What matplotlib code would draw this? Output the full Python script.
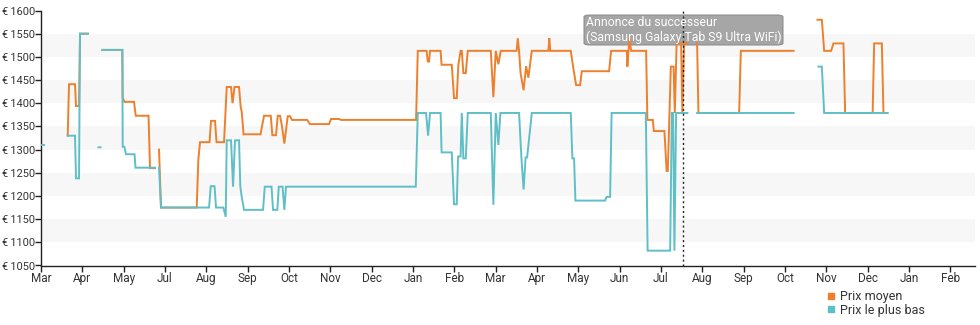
import numpy as np
import matplotlib
matplotlib.use("Agg")
import matplotlib.pyplot as plt
from matplotlib.lines import Line2D
from matplotlib.patches import FancyBboxPatch

plt.rcParams['font.family'] = ['Roboto', 'DejaVu Sans']

nan = np.nan

# time axis: months elapsed since the first tick
month_labels = ["Mar", "Apr", "May", "Jul", "Aug", "Sep", "Oct", "Nov", "Dec", "Jan",
                "Feb", "Mar", "Apr", "May", "Jun", "Jul", "Aug", "Sep", "Oct", "Nov",
                "Dec", "Jan", "Feb"]

# average price (Prix moyen)
t_avg = [0.646, 0.678, 0.823, 0.847, 0.920, 0.944, 1.137, nan,
         1.484, 1.968, 1.977, 2.021, 2.251, 2.292, 2.602, 2.638, 2.759, nan,
         2.856, 2.904, 3.768, 3.807, 3.848, 4.078, 4.114, 4.211, 4.247, 4.429,
         4.494, 4.598, 4.635, 4.683, 4.792, 4.833, 4.857, 4.901, 5.312, 5.397,
         5.559, 5.598, 5.687, 5.728, 5.784, 5.832, 5.888, 5.970, 6.026, 6.074,
         6.438, 6.510, 6.970, 7.018, 7.212, 7.260, 9.076, 9.117, 9.330, 9.359,
         9.390, 9.414, 9.669, 9.693, 9.939, 9.995, 10.060, 10.099, 10.153, 10.182,
         10.220, 10.278, 10.327, 10.883, 10.946, 11.004, 11.067, 11.125, 11.508,
         11.537, 11.568, 11.604, 11.677, 11.738, 11.793, 11.876, 12.277, 12.299,
         12.323, 12.819, 12.875, 12.948, 13.044, 13.086, 13.746, 13.795, 14.175,
         14.189, 14.238, 14.279, 14.642, 14.673, 14.804, 14.828, 15.085, 15.138,
         15.167, 15.240, 15.307, 15.336, 15.380, 15.489, 15.518, 15.562, 15.641, nan,
         15.876, 15.908, 16.893, 16.934, 18.211, nan,
         18.788, 18.894, 18.950, 19.119, 19.175, 19.417, 19.458, 20.123, 20.160,
         20.346, 20.385, 20.482]
p_avg = [1330, 1441, 1441, 1394, 1394, 1550, 1550, nan,
         1515, 1515, 1411, 1403, 1403, 1373, 1373, 1260, 1260, nan,
         1300, 1175, 1175, 1278, 1316, 1316, 1362, 1362, 1316, 1316,
         1435, 1435, 1400, 1435, 1435, 1391, 1382, 1333, 1333, 1373,
         1373, 1331, 1331, 1373, 1373, 1350, 1313, 1372, 1372, 1364,
         1364, 1355, 1355, 1366, 1366, 1364, 1364, 1513, 1513, 1490,
         1490, 1513, 1513, 1483, 1483, 1411, 1411, 1483, 1513, 1513,
         1465, 1465, 1513, 1513, 1413, 1513, 1484, 1513, 1513,
         1540, 1513, 1465, 1428, 1480, 1455, 1513, 1513, 1540,
         1513, 1513, 1479, 1439, 1439, 1469, 1469, 1513, 1513,
         1479, 1540, 1513, 1513, 1364, 1364, 1340, 1340, 1254,
         1254, 1479, 1479, 1379, 1529, 1529, 1379, 1529, 1529, nan,
         1529, 1379, 1379, 1513, 1513, nan,
         1580, 1580, 1513, 1513, 1529, 1529, 1379, 1379, 1529,
         1529, 1379, 1379]

# lowest price (Prix le plus bas)
t_low = [0.0, 0.073, nan,
         0.646, 0.823, 0.847, 0.920, 0.944, 1.137, nan,
         1.392, 1.440, nan,
         1.484, 1.968, 1.977, 2.016, 2.057, 2.263, 2.287, 2.759, nan,
         2.856, 2.904, 4.066, 4.107, 4.199, 4.235, 4.412, 4.470, 4.494, 4.598,
         4.647, 4.695, 4.792, 4.823, 4.857, 4.913, 5.373, 5.414, 5.578, 5.615,
         5.719, 5.753, 5.845, 5.888, 5.929, 9.068, 9.117, 9.317, 9.366, 9.414,
         9.669, 9.693, 9.939, 9.995, 10.060, 10.092, 10.152, 10.182, 10.220,
         10.278, 10.327, 10.883, 10.946, 11.004, 11.067, 11.116, 11.568, 11.624,
         11.677, 11.726, 11.762, 11.876, 12.819, 12.858, 12.899, 12.931, 13.650,
         13.686, 13.771, 13.807, 14.635, 14.678, 15.223, 15.264, 15.295, 15.327,
         15.368, 15.641, nan,
         15.876, 18.211, nan,
         18.811, 18.894, 18.950, 20.482]
p_low = [1310, 1310, nan,
         1330, 1330, 1238, 1238, 1550, 1550, nan,
         1305, 1305, nan,
         1515, 1515, 1306, 1306, 1290, 1290, 1261, 1261, nan,
         1261, 1175, 1175, 1221, 1221, 1175, 1175, 1155, 1320, 1320,
         1220, 1320, 1320, 1220, 1198, 1170, 1170, 1220, 1220, 1170,
         1170, 1220, 1220, 1170, 1220, 1220, 1379, 1379, 1330, 1379,
         1379, 1294, 1294, 1182, 1182, 1285, 1285, 1379, 1281,
         1281, 1379, 1379, 1181, 1379, 1310, 1379, 1379, 1283,
         1214, 1283, 1283, 1379, 1379, 1281, 1281, 1190, 1190,
         1198, 1198, 1379, 1379, 1082, 1082, 1379, 1379, 1082,
         1379, 1379, nan,
         1379, 1379, nan,
         1479, 1479, 1379, 1379]

y_ticks = list(range(1050, 1601, 50))
successor_month = 15.54
successor_text = "Annonce du successeur\n(Samsung Galaxy Tab S9 Ultra WiFi)"

c_avg = "#ee7f2d"
c_low = "#5fbfc7"

fig = plt.figure(figsize=(9.8, 3.25), dpi=100)
ax = fig.add_axes([41 / 980, 1 - 265.5 / 325, (975 - 41) / 980, 255 / 325])

# alternating horizontal bands
for lo in range(1100, 1600, 100):
    ax.axhspan(lo, lo + 50, color="#f7f7f7", zorder=0, lw=0)

ax.plot(t_avg, p_avg, color=c_avg, lw=1.4, zorder=3, solid_joinstyle="miter")
ax.plot(t_low, p_low, color=c_low, lw=1.4, zorder=4, solid_joinstyle="miter")

ax.axvline(successor_month, color="#222222", lw=1, ls=(0, (1.5, 2)), zorder=5)

ax.set_xlim(0, 22.6)
ax.set_ylim(1050, 1600)
ax.set_xticks(range(len(month_labels)))
ax.set_xticklabels(month_labels)
ax.set_yticks(y_ticks)
ax.set_yticklabels([f"€\u2009{v}" for v in y_ticks])

for s in ("top", "right"):
    ax.spines[s].set_visible(False)
for s in ("left", "bottom"):
    ax.spines[s].set_color("#222222")
    ax.spines[s].set_linewidth(1)
ax.tick_params(axis="both", direction="out", length=4, width=1, color="#222222",
               labelsize=8.5, labelcolor="#333333", pad=1)
ax.tick_params(axis="y", labelsize=7.9, pad=0.5)

# annotation box for the successor announcement
box = FancyBboxPatch((584 / 980, 1 - 45 / 325), 199 / 980, 30 / 325,
                     boxstyle="round,pad=0,rounding_size=0.006",
                     transform=fig.transFigure, facecolor="#9c9c9c",
                     edgecolor="#8a8a8a", lw=0.8, alpha=0.9, zorder=2)
ax.add_patch(box)
box.set_clip_on(False)
fig.text(586 / 980, 1 - 30 / 325, successor_text, color="white", fontsize=8.8,
         va="center", ha="left", linespacing=1.2, zorder=6)

handles = [Line2D([], [], marker="s", ls="none", color=c_avg, markersize=5),
           Line2D([], [], marker="s", ls="none", color=c_low, markersize=5)]
fig.legend(handles, ["Prix moyen", "Prix le plus bas"], loc="upper left",
           bbox_to_anchor=(826 / 980, 1 - 290 / 325), frameon=False,
           fontsize=9, handlelength=0.8, handletextpad=0.3, labelspacing=0.05,
           borderaxespad=0, borderpad=0, labelcolor="#333333")

fig.savefig("out.png", dpi=100, facecolor="white")
